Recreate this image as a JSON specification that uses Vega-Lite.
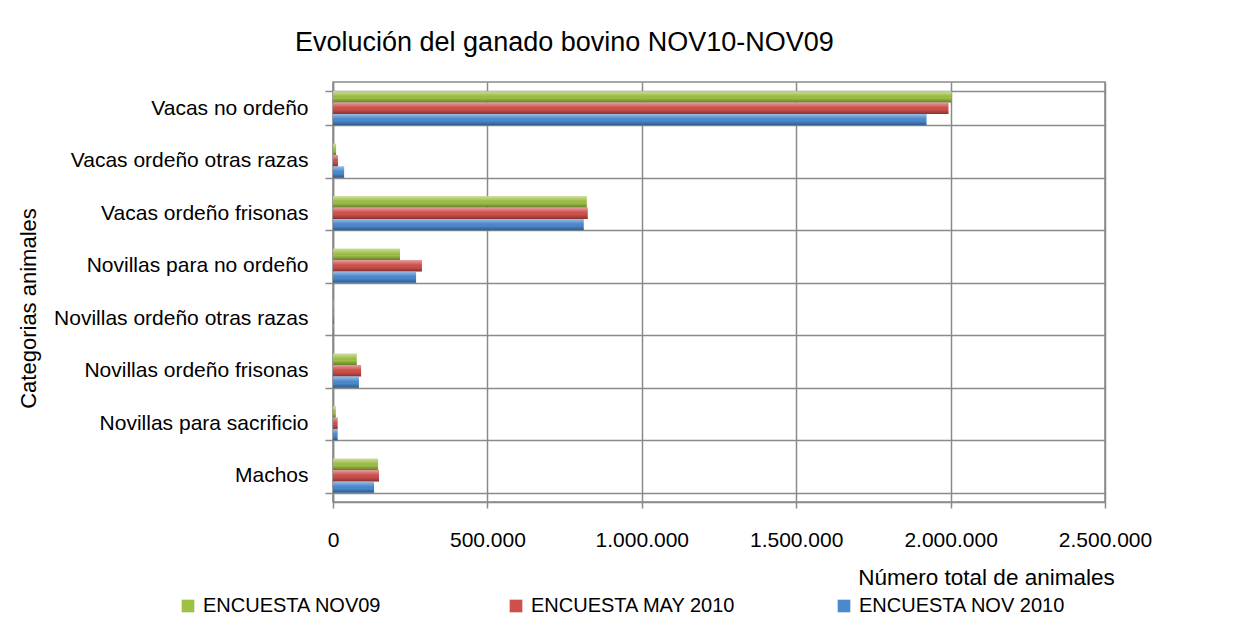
{
  "$schema": "https://vega.github.io/schema/vega-lite/v6.json",
  "width": 772,
  "height": 420,
  "autosize": {"type": "none"},
  "padding": {"left": 333, "top": 82, "right": 150, "bottom": 133},
  "background": "white",
  "title": {
    "text": "Evolución del ganado bovino NOV10-NOV09",
    "anchor": "start",
    "frame": "group",
    "dx": -38,
    "offset": 14,
    "font": "Liberation Sans",
    "fontSize": 27,
    "fontWeight": "normal",
    "color": "#000000"
  },
  "data": {
    "values": [
      {"categoria": "Vacas no ordeño", "encuesta": "ENCUESTA NOV09", "animales": 2003000},
      {"categoria": "Vacas no ordeño", "encuesta": "ENCUESTA MAY 2010", "animales": 1993000},
      {"categoria": "Vacas no ordeño", "encuesta": "ENCUESTA NOV 2010", "animales": 1922000},
      {"categoria": "Vacas ordeño otras razas", "encuesta": "ENCUESTA NOV09", "animales": 10000},
      {"categoria": "Vacas ordeño otras razas", "encuesta": "ENCUESTA MAY 2010", "animales": 16000},
      {"categoria": "Vacas ordeño otras razas", "encuesta": "ENCUESTA NOV 2010", "animales": 36000},
      {"categoria": "Vacas ordeño frisonas", "encuesta": "ENCUESTA NOV09", "animales": 822000},
      {"categoria": "Vacas ordeño frisonas", "encuesta": "ENCUESTA MAY 2010", "animales": 825000},
      {"categoria": "Vacas ordeño frisonas", "encuesta": "ENCUESTA NOV 2010", "animales": 812000},
      {"categoria": "Novillas para no ordeño", "encuesta": "ENCUESTA NOV09", "animales": 217000},
      {"categoria": "Novillas para no ordeño", "encuesta": "ENCUESTA MAY 2010", "animales": 288000},
      {"categoria": "Novillas para no ordeño", "encuesta": "ENCUESTA NOV 2010", "animales": 269000},
      {"categoria": "Novillas ordeño otras razas", "encuesta": "ENCUESTA NOV09", "animales": 1500},
      {"categoria": "Novillas ordeño otras razas", "encuesta": "ENCUESTA MAY 2010", "animales": 1800},
      {"categoria": "Novillas ordeño otras razas", "encuesta": "ENCUESTA NOV 2010", "animales": 1700},
      {"categoria": "Novillas ordeño frisonas", "encuesta": "ENCUESTA NOV09", "animales": 77000},
      {"categoria": "Novillas ordeño frisonas", "encuesta": "ENCUESTA MAY 2010", "animales": 91000},
      {"categoria": "Novillas ordeño frisonas", "encuesta": "ENCUESTA NOV 2010", "animales": 84000},
      {"categoria": "Novillas para sacrificio", "encuesta": "ENCUESTA NOV09", "animales": 9000},
      {"categoria": "Novillas para sacrificio", "encuesta": "ENCUESTA MAY 2010", "animales": 15000},
      {"categoria": "Novillas para sacrificio", "encuesta": "ENCUESTA NOV 2010", "animales": 15000},
      {"categoria": "Machos ", "encuesta": "ENCUESTA NOV09", "animales": 146000},
      {"categoria": "Machos ", "encuesta": "ENCUESTA MAY 2010", "animales": 149000},
      {"categoria": "Machos ", "encuesta": "ENCUESTA NOV 2010", "animales": 133000}
    ]
  },
  "encoding": {
    "y": {
      "field": "categoria",
      "type": "nominal",
      "sort": ["Vacas no ordeño", "Vacas ordeño otras razas", "Vacas ordeño frisonas", "Novillas para no ordeño", "Novillas ordeño otras razas", "Novillas ordeño frisonas", "Novillas para sacrificio", "Machos "],
      "scale": {"paddingInner": 0.35, "paddingOuter": 0.175},
      "axis": {
        "title": "Categorias animales",
        "tickBand": "extent",
        "grid": true,
        "ticks": true,
        "tickSize": 8,
        "labelPadding": 17,
        "labelFontSize": 21,
        "labelLimit": 400,
        "titleFontSize": 22,
        "titleX": -305,
        "titleY": 226,
        "titleAngle": 270,
        "titleAlign": "center",
        "titleBaseline": "middle"
      }
    },
    "yOffset": {
      "field": "encuesta",
      "type": "nominal",
      "sort": ["ENCUESTA NOV09", "ENCUESTA MAY 2010", "ENCUESTA NOV 2010"],
      "scale": {"paddingInner": 0, "paddingOuter": 0}
    },
    "x": {
      "field": "animales",
      "type": "quantitative",
      "scale": {"domain": [0, 2500000], "nice": false},
      "axis": {
        "title": "Número total de animales",
        "values": [0, 500000, 1000000, 1500000, 2000000, 2500000],
        "format": ",d",
        "grid": true,
        "tickSize": 6,
        "labelPadding": 21,
        "labelFontSize": 21,
        "labelFlush": false,
        "titleFontSize": 22.5,
        "titleX": 653,
        "titleY": 75,
        "titleAlign": "center",
        "titleBaseline": "middle"
      }
    }
  },
  "layer": [
    {
      "mark": {"type": "bar"},
      "encoding": {
        "color": {
          "field": "encuesta",
          "type": "nominal",
          "scale": {
            "domain": ["ENCUESTA NOV09", "ENCUESTA MAY 2010", "ENCUESTA NOV 2010"],
            "range": ["#9dc045", "#cf4f4b", "#4b89cf"]
          },
          "legend": {
            "title": null,
            "orient": "none",
            "legendX": -155,
            "legendY": 514,
            "direction": "horizontal",
            "columns": 3,
            "gridAlign": "all",
            "columnPadding": 96,
            "symbolType": "square",
            "symbolSize": 160,
            "symbolStrokeWidth": 0,
            "labelFont": "Liberation Sans",
            "labelFontSize": 20,
            "labelColor": "#000000",
            "labelOffset": 5,
            "labelLimit": 400,
            "padding": 0
          }
        }
      }
    },
    {
      "mark": {
        "type": "bar",
        "color": {
          "gradient": "linear",
          "x1": 0, "y1": 0, "x2": 0, "y2": 1,
          "stops": [
            {"offset": 0, "color": "rgba(255,255,255,0.45)"},
            {"offset": 0.3, "color": "rgba(255,255,255,0.15)"},
            {"offset": 0.6, "color": "rgba(0,0,0,0)"},
            {"offset": 1, "color": "rgba(0,0,0,0.35)"}
          ]
        }
      },
      "encoding": {}
    }
  ],
  "config": {
    "locale": {
      "number": {"decimal": ",", "thousands": ".", "grouping": [3], "currency": ["", " €"]}
    },
    "axis": {
      "labelFont": "Liberation Sans",
      "titleFont": "Liberation Sans",
      "labelColor": "#000000",
      "titleColor": "#000000",
      "titleFontWeight": "normal",
      "gridColor": "#8a8a8a",
      "gridWidth": 1.5,
      "domainColor": "#8a8a8a",
      "domainWidth": 1.5,
      "tickColor": "#8a8a8a",
      "tickWidth": 1.5
    },
    "view": {"stroke": "#8a8a8a", "strokeWidth": 1.5}
  }
}
